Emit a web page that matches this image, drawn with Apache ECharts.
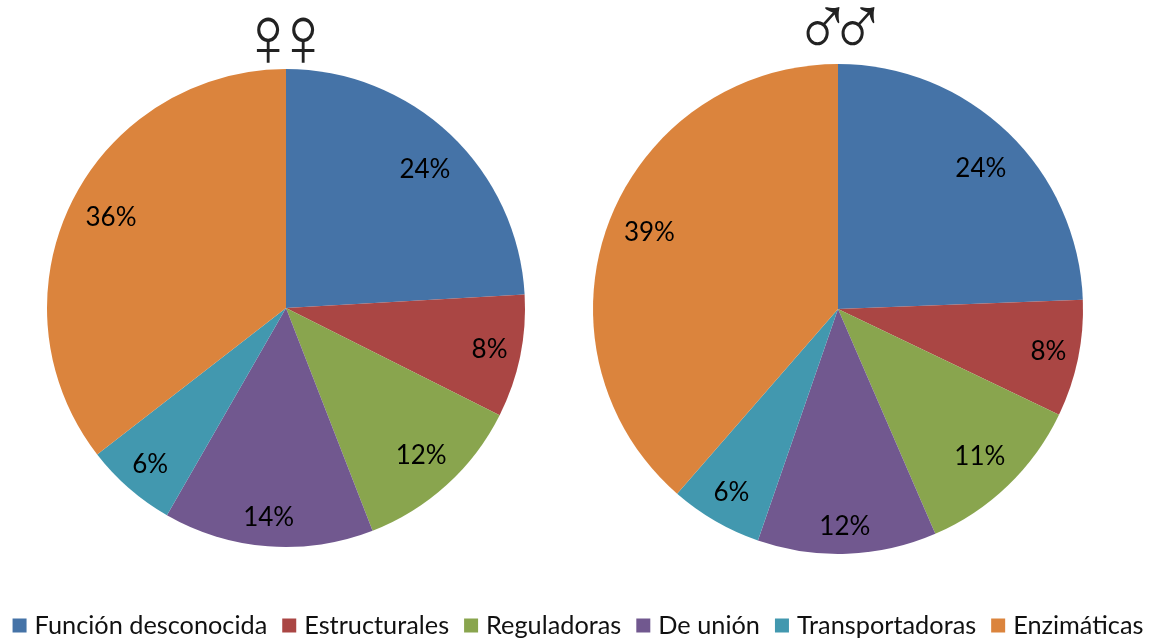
<!DOCTYPE html>
<html><head><meta charset="utf-8">
<style>html,body{margin:0;padding:0;background:#fff}#c{width:1156px;height:639px}</style>
<script src="https://cdn.jsdelivr.net/npm/echarts@6/dist/echarts.min.js"></script>
</head><body><div id="c"></div>
<script>
const categories=['Función desconocida','Estructurales','Reguladoras','De unión','Transportadoras','Enzimáticas'];
const colors=['#4573a7','#aa4644','#89a54e','#71588f','#4298af','#db843d'];
const femaleValues=[24.1,8.3,11.7,14.2,6.2,35.5];
const maleValues=[24.4,7.7,11.4,11.8,6.1,38.6];
const femaleNudge=[[-1,10],[4,0],[-2,-3],[-2,6],[-2,3],[8,-1]];
const maleNudge=[[-2,10],[6,0],[-3,-3],[-1,9],[-2,3],[7,-3]];
const chart=echarts.init(document.getElementById('c'),null,{renderer:'canvas'});
function pie(vals,center,r,nudge){
 const total=vals.reduce((a,b)=>a+b,0);
 return {type:'pie',center,radius:[0,r],startAngle:90,clockwise:true,
 data:categories.map((n,i)=>({name:n,value:vals[i],itemStyle:{color:colors[i]}})),
 label:{position:'inside',formatter:p=>Math.round(p.value)+'%',fontFamily:'Lato',fontSize:26,color:'#000'},labelLine:{show:false},
 labelLayout:p=>{
  const i=p.dataIndex;
  const before=vals.slice(0,i).reduce((a,b)=>a+b,0);
  const a=(before+vals[i]/2)/total*2*Math.PI;
  const k=0.34*r;
  return {dx:k*Math.sin(a)+nudge[i][0],dy:-k*Math.cos(a)+nudge[i][1]};
 },
 emphasis:{disabled:true},animation:false};}
function symbol(ch,x,y,sx,sy){return {type:'text',x,y,scaleX:sx,scaleY:sy,silent:true,
 style:{text:ch,fontFamily:'Liberation Sans',fontSize:58,fill:'#222',align:'center',verticalAlign:'middle'}};}
chart.setOption({animation:false,color:colors,
 legend:{bottom:-4,left:'center',icon:'rect',itemWidth:14,itemHeight:14,itemGap:15,
  data:categories,textStyle:{fontFamily:'Lato',fontSize:25.3,color:'#111',padding:[0,0,0,3]}},
 graphic:[symbol('♀',268,42,1.35,1.48),symbol('♀',303,42,1.35,1.48),symbol('♂',823,32,1.35,1.5),symbol('♂',858,32,1.35,1.5)],
 series:[pie(femaleValues,[286,308],239,femaleNudge),pie(maleValues,[838,309],245,maleNudge)]});
</script></body></html>
